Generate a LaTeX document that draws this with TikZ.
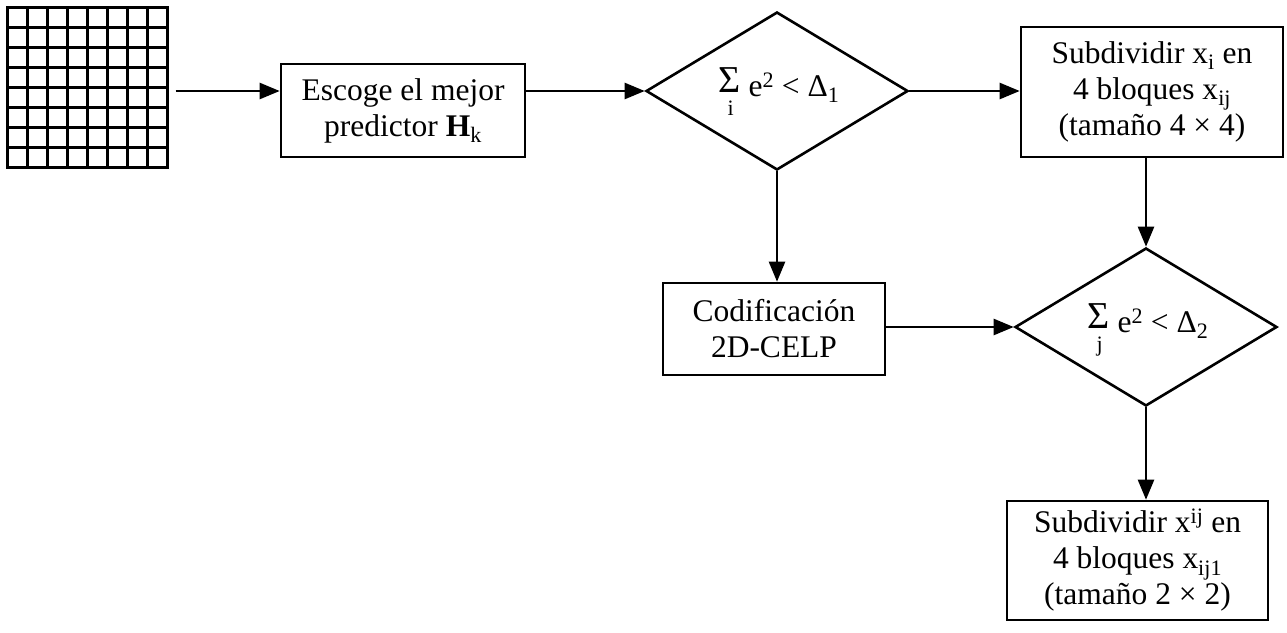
\documentclass[tikz,border=0pt]{standalone}
\usepackage{fontspec}
\setmainfont{Liberation Serif}
\usetikzlibrary{shapes.geometric,arrows.meta}

% summation sign (raised to the axis) with its index set underneath,
% the index kept out of the node size
\newcommand{\sumover}[1]{\smash{\begin{tabular}[t]{@{}c@{}}\raisebox{4pt}{\fontsize{38}{38}\selectfont Σ}\\[-17pt]\hspace{2pt}{\fontsize{22}{22}\selectfont #1}\end{tabular}}}

\begin{document}
\begin{tikzpicture}[x=1pt,y=-1pt,
  every node/.style={font=\fontsize{31.5}{36}\selectfont, inner sep=0pt, align=center},
  blk/.style={draw, line width=2.6pt, rectangle},
  dec/.style={draw, line width=2.6pt, diamond, shape aspect=1.66,
              minimum width=262pt, minimum height=158pt},
  flow/.style={line width=2.4pt, -{Triangle[length=20pt,width=16pt]}}]

\useasboundingbox (0,0) rectangle (1287,632);

% 8x8 image block
\node[draw, line width=3pt, minimum size=160pt] (grid) at (87,87) {};
\foreach \k in {1,...,7} {
  \draw[line width=3pt] ({7+20*\k},7) -- ({7+20*\k},167);
  \draw[line width=3pt] (7,{7+20*\k}) -- (167,{7+20*\k});
}

\node[blk, minimum width=244pt, minimum height=93pt] (b1) at (403,110.5)
  {Escoge el mejor\\predictor \textbf{H}\textsubscript{k}};

\node[dec] (d1) at (777,91) {};
\node (t1) at (779,88) {\sumover{i} e\textsuperscript{2} < Δ\textsubscript{1}};

\node[blk, minimum width=262pt, minimum height=130pt] (b2) at (1152,92)
  {Subdividir x\textsubscript{i} en\\4 bloques x\textsubscript{ij}\\(tamaño 4 × 4)};

\node[blk, minimum width=222pt, minimum height=92pt] (cod) at (774,329)
  {Codificación\\2D-CELP};

\node[dec] (d2) at (1146,327) {};
\node (t2) at (1148,324) {\sumover{j} e\textsuperscript{2} < Δ\textsubscript{2}};

\node[blk, minimum width=261pt, minimum height=119pt] (b3) at (1137.5,560.5)
  {Subdividir x\textsuperscript{ij} en\\4 bloques x\textsubscript{ij1}\\(tamaño 2 × 2)};

% connectors
\draw[flow] ([xshift=7pt]grid.east |- d1.west) -- (b1.west |- d1.west);
\draw[flow] (b1.east |- d1.west) -- (d1.west);
\draw[flow] (d1.east) -- (b2.west |- d1.east);
\draw[flow] (d2.north |- b2.south) -- (d2.north);
\draw[flow] (d1.south) -- (d1.south |- cod.north);
\draw[flow] (cod.east |- d2.west) -- (d2.west);
\draw[flow] (d2.south) -- (d2.south |- b3.north);
\end{tikzpicture}
\end{document}
